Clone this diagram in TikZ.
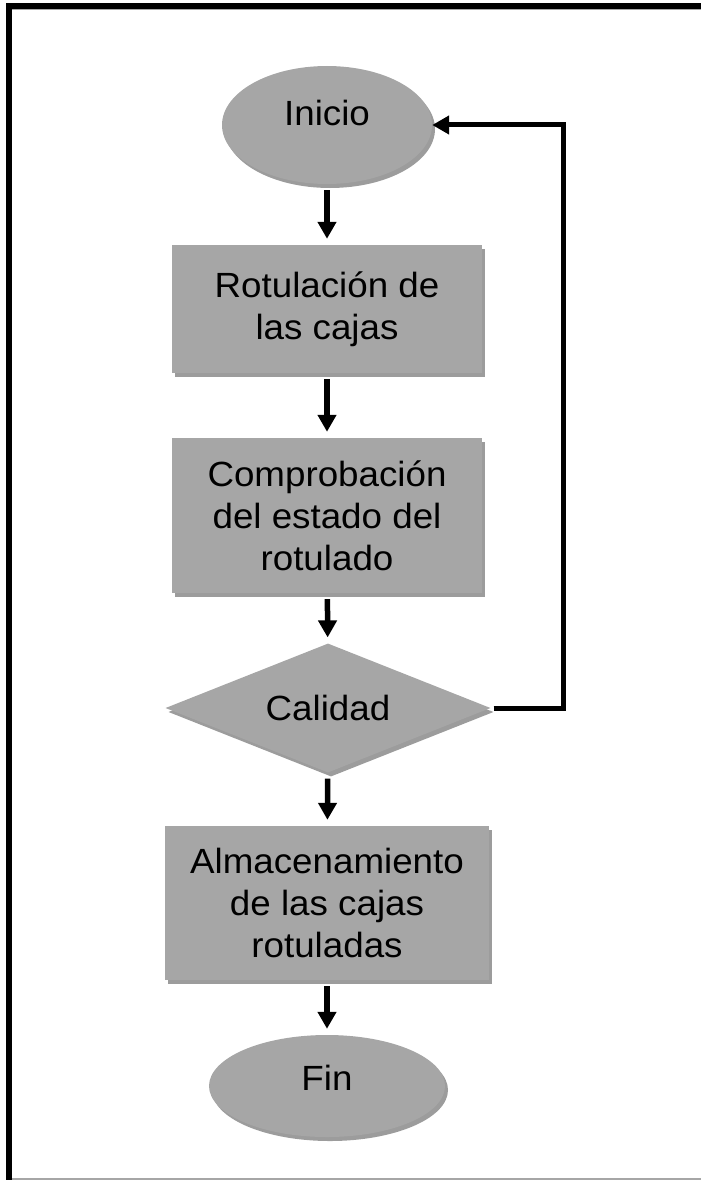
\documentclass[tikz,border=0pt]{standalone}
\usepackage{fontspec}
\setmainfont[FakeStretch=1.05]{Liberation Sans}
\usetikzlibrary{shapes.geometric,shadows,arrows.meta}
\definecolor{boxgray}{RGB}{166,166,166}
\definecolor{shadegray}{RGB}{156,156,156}

\begin{document}
\begin{tikzpicture}[x=1pt,y=-1pt,
font=\fontsize{35}{42}\selectfont,
boxshadow/.style={drop shadow={shadow xshift=3pt,shadow yshift=-4pt,fill=shadegray,opacity=1}},
process/.style={rectangle, fill=boxgray, boxshadow, align=center, inner sep=0pt},
terminal/.style={ellipse, fill=boxgray, boxshadow, inner sep=0pt},
decision/.style={diamond, aspect=2.5, fill=boxgray, boxshadow, inner sep=0pt},
flow/.style={line width=5.5pt, -{Triangle[width=18pt,length=17pt]}, shorten <=6pt, shorten >=6pt}]
\useasboundingbox (0,0) rectangle (701,1180);

\draw[black, line width=6pt] (9.3,1180) -- (9.3,6) -- (701,6);
\draw[black!35, line width=1pt] (12,9.8) -- (701,9.8);
\draw[black!35, line width=1.2pt] (12,1179) -- (701,1179);

\node[terminal, minimum width=210pt, minimum height=118pt, text height=25pt, text depth=24pt] (inicio) at (327,125) {Inicio};
\node[process, minimum width=310pt, minimum height=128pt] (rotulacion) at (327,309) {Rotulación de\\las cajas};
\node[process, minimum width=310pt, minimum height=155pt] (comprobacion) at (327,515.5) {Comprobación\\del estado del\\rotulado};
\node[decision, minimum width=325pt, minimum height=129pt] (calidad) at (328,708) {Calidad};
\node[process, minimum width=324pt, minimum height=154pt] (almacenamiento) at (327,903) {Almacenamiento\\de las cajas\\rotuladas};
\node[terminal, minimum width=236pt, minimum height=102pt, text height=25pt, text depth=16pt] (fin) at (327,1086) {Fin};
\coordinate (vuelta) at (563,708);

\draw[flow] (inicio) -- (rotulacion);
\draw[flow] (rotulacion) -- (comprobacion);
\draw[flow] (comprobacion) -- (calidad);
\draw[flow] (calidad) -- (almacenamiento);
\draw[flow] (almacenamiento) -- (fin);
\draw[flow, line width=5pt, shorten <=3pt, shorten >=0pt] (calidad.east) -- (vuelta) |- (inicio.east);

\end{tikzpicture}
\end{document}
